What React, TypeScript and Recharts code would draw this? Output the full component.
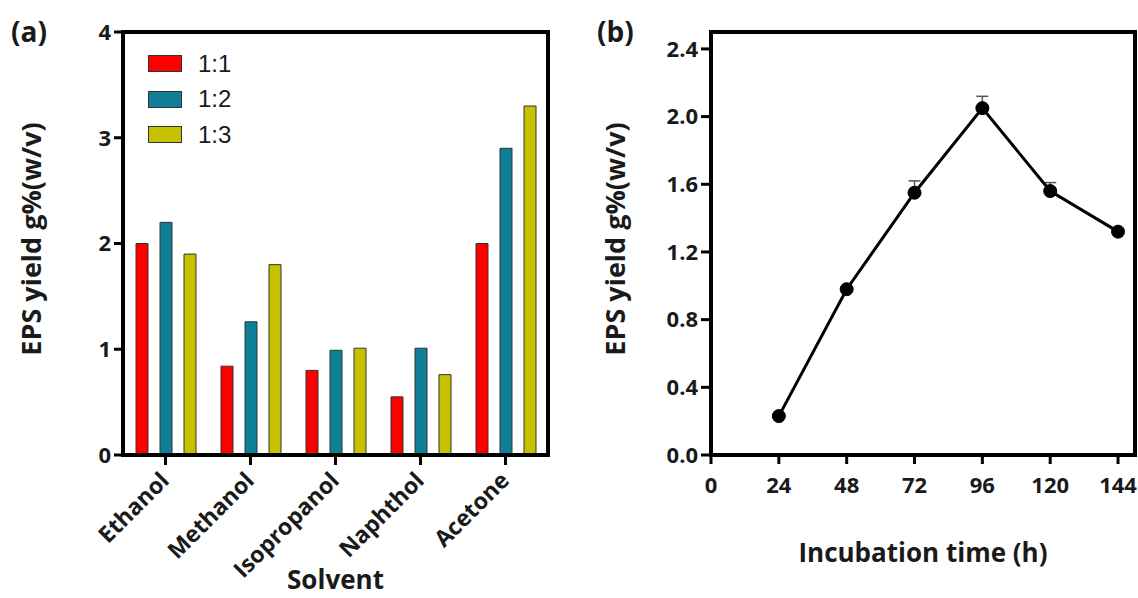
import React from 'react';
import {
  BarChart,
  Bar,
  LineChart,
  Line,
  XAxis,
  YAxis,
  Legend,
  Label,
  ReferenceArea,
  ErrorBar,
} from 'recharts';

// (a) EPS yield by solvent and ratio
const solvents = ['Ethanol', 'Methanol', 'Isopropanol', 'Naphthol', 'Acetone'];
const ratio11 = [2.0, 0.84, 0.8, 0.55, 2.0];
const ratio12 = [2.2, 1.26, 0.99, 1.01, 2.9];
const ratio13 = [1.9, 1.8, 1.01, 0.76, 3.3];
const ratioNames = ['1:1', '1:2', '1:3'];
const ratioColors = ['#ff0000', '#0f7f98', '#c6c200'];
const yTicksA = [0, 1, 2, 3, 4];

// (b) EPS yield over incubation time
const hours = [24, 48, 72, 96, 120, 144];
const yieldMean = [0.23, 0.98, 1.55, 2.05, 1.56, 1.32];
const yieldErr = [0, 0, 0.07, 0.07, 0.05, 0];
const xTicksB = [0, 24, 48, 72, 96, 120, 144];
const yTicksB = [0, 0.4, 0.8, 1.2, 1.6, 2.0, 2.4];

const FONT = "'Open Sans', sans-serif";
const INK = '#1a1a1a';

const barData = solvents.map((s, i) => ({
  solvent: s,
  r11: ratio11[i],
  r12: ratio12[i],
  r13: ratio13[i],
}));

const lineData = hours.map((h, i) => ({
  hour: h,
  value: yieldMean[i],
  err: [0, yieldErr[i]],
}));

const tickStyle = { fill: INK, fontSize: 22, fontWeight: 700, fontFamily: FONT };

const SolventTick = ({ x, y, payload }: any) => {
  const ax = x + 5;
  const ay = y + 15;
  return (
    <text
      x={ax}
      y={ay}
      transform={`rotate(-45, ${ax}, ${ay})`}
      textAnchor="end"
      fill={INK}
      fontSize={23}
      fontWeight={700}
      fontFamily={FONT}
    >
      {payload.value}
    </text>
  );
};

const yTitle = (cx: number) => () => (
  <text
    x={cx}
    y={239}
    transform={`rotate(-90, ${cx}, 239)`}
    textAnchor="middle"
    dominantBaseline="central"
    fill={INK}
    fontSize={27}
    fontWeight={700}
    fontFamily={FONT}
  >
    EPS yield g%(w/v)
  </text>
);

const xTitle = (cx: number, y: number, text: string) => () => (
  <text x={cx} y={y} textAnchor="middle" fill={INK} fontSize={26} fontWeight={700} fontFamily={FONT}>
    {text}
  </text>
);

const RatioLegend = () => (
  <div style={{ fontFamily: 'Arial, "Liberation Sans", sans-serif', fontSize: 24, color: INK }}>
    {ratioNames.map((n, i) => (
      <div key={n} style={{ display: 'flex', alignItems: 'center', height: 35.5 }}>
        <span
          style={{
            width: 34,
            height: 17,
            background: ratioColors[i],
            border: '1px solid #333',
            boxSizing: 'border-box',
            marginRight: 16,
          }}
        />
        <span>{n}</span>
      </div>
    ))}
  </div>
);

const panelLetter = (left: number, text: string) => (
  <div
    style={{
      position: 'absolute',
      left,
      top: 17,
      fontFamily: FONT,
      fontWeight: 700,
      fontSize: 28,
      lineHeight: 1,
      color: INK,
    }}
  >
    {text}
  </div>
);

export default function App() {
  return (
    <div style={{ position: 'absolute', left: 0, top: 0, width: 1138, height: 598, background: '#fff' }}>
      {panelLetter(11, '(a)')}
      {panelLetter(597, '(b)')}

      <div style={{ position: 'absolute', left: 0, top: 0 }}>
        <BarChart
          width={570}
          height={598}
          data={barData}
          margin={{ top: 32, right: 22, bottom: 0, left: 0 }}
          barSize={12}
          barGap={12}
          barCategoryGap={12}
        >
          <XAxis
            dataKey="solvent"
            height={143}
            interval={0}
            axisLine={{ stroke: '#000', strokeWidth: 4 }}
            tickLine={{ stroke: '#000', strokeWidth: 3 }}
            tickSize={10}
            tickMargin={2}
            tick={<SolventTick />}
          >
            <Label content={xTitle(335.5, 589, 'Solvent')} />
          </XAxis>
          <YAxis
            width={123}
            domain={[0, 4]}
            ticks={yTicksA}
            interval={0}
            axisLine={{ stroke: '#000', strokeWidth: 4 }}
            tickLine={{ stroke: '#000', strokeWidth: 3 }}
            tickSize={9}
            tickMargin={3}
            tick={tickStyle}
          >
            <Label content={yTitle(30)} />
          </YAxis>
          <ReferenceArea y1={0} y2={4} fill="none" stroke="#000" strokeWidth={4} />
          <Legend
            layout="horizontal"
            verticalAlign="middle"
            align="center"
            content={<RatioLegend />}
            wrapperStyle={{ position: 'absolute', left: 148, top: 46, width: 'auto', height: 'auto' }}
          />
          <Bar dataKey="r11" name={ratioNames[0]} fill={ratioColors[0]} stroke="#333" strokeWidth={1} isAnimationActive={false} />
          <Bar dataKey="r12" name={ratioNames[1]} fill={ratioColors[1]} stroke="#333" strokeWidth={1} isAnimationActive={false} />
          <Bar dataKey="r13" name={ratioNames[2]} fill={ratioColors[2]} stroke="#333" strokeWidth={1} isAnimationActive={false} />
        </BarChart>
      </div>

      <div style={{ position: 'absolute', left: 570, top: 0 }}>
        <LineChart width={568} height={598} data={lineData} margin={{ top: 32, right: 3, bottom: 0, left: 0 }}>
          <XAxis
            dataKey="hour"
            type="number"
            domain={[0, 150]}
            ticks={xTicksB}
            interval={0}
            height={143}
            axisLine={{ stroke: '#000', strokeWidth: 4 }}
            tickLine={{ stroke: '#000', strokeWidth: 3 }}
            tickSize={9}
            tickMargin={13}
            tick={tickStyle}
          >
            <Label content={xTitle(353, 562, 'Incubation time (h)')} />
          </XAxis>
          <YAxis
            width={141}
            domain={[0, 2.5]}
            ticks={yTicksB}
            interval={0}
            tickFormatter={(v: number) => v.toFixed(1)}
            axisLine={{ stroke: '#000', strokeWidth: 4 }}
            tickLine={{ stroke: '#000', strokeWidth: 3 }}
            tickSize={10}
            tickMargin={3}
            tick={tickStyle}
          >
            <Label content={yTitle(44)} />
          </YAxis>
          <ReferenceArea x1={0} x2={150} y1={0} y2={2.5} fill="none" stroke="#000" strokeWidth={4} />
          <Line
            dataKey="value"
            stroke="#000"
            strokeWidth={3}
            dot={{ r: 6.5, fill: '#000', stroke: '#000', strokeWidth: 1 }}
            isAnimationActive={false}
          >
            <ErrorBar dataKey="err" direction="y" width={6} stroke="#555" strokeWidth={1.5} />
          </Line>
        </LineChart>
      </div>
    </div>
  );
}
